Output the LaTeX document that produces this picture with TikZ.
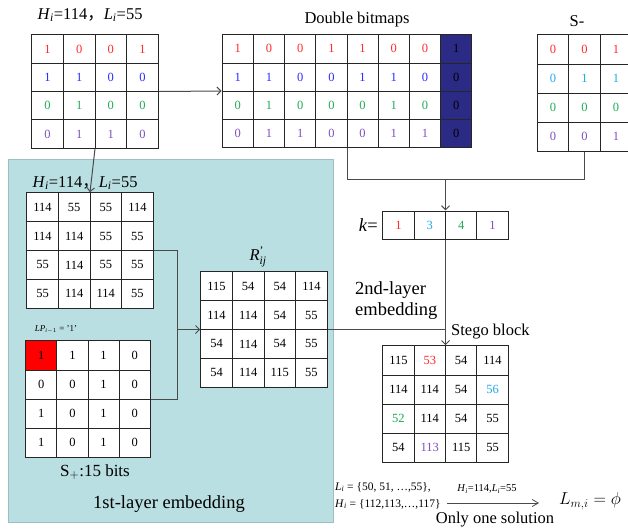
\documentclass[tikz,border=0pt]{standalone}
\usepackage{amsmath}
\usepackage{fontspec}
\setmainfont{Liberation Serif}
\newfontfamily\cjk{Noto Sans CJK SC}
\usetikzlibrary{matrix,arrows.meta}

\definecolor{cred}{HTML}{FF2A2A}
\definecolor{cblue}{HTML}{2A2AFF}
\definecolor{cgreen}{HTML}{22AA55}
\definecolor{cpurple}{HTML}{7F4FBF}
\definecolor{clblue}{HTML}{22A8E8}
\definecolor{navy}{HTML}{2B2A85}
\definecolor{panel}{HTML}{B9DFE2}
\definecolor{panelline}{HTML}{9DBFC3}
\definecolor{linkgray}{HTML}{4A4A4A}

\tikzset{
  cell/.style={draw=black!85, line width=0.8pt, fill=white, inner sep=0pt,
    font=\fontsize{12.5}{12.5}\selectfont, anchor=center},
  grid/.style={matrix of nodes, column sep=-0.8pt, row sep=-0.8pt, inner sep=0pt},
  cellsize/.style n args={2}{nodes={cell, minimum width=#1pt, minimum height=#2pt}},
  link/.style={draw=linkgray, line width=1pt},
  tip/.style={-{Straight Barb[length=4pt,width=8pt]}},
  title/.style={font=\fontsize{16.5}{16.5}\selectfont, inner sep=0pt},
  big/.style={font=\fontsize{18.5}{21}\selectfont, inner sep=0pt},
  small/.style={font=\fontsize{11.5}{11.5}\selectfont, inner sep=0pt},
  bitrows/.style={row 1/.style={nodes={text=cred}}, row 2/.style={nodes={text=#1}},
    row 3/.style={nodes={text=cgreen}}, row 4/.style={nodes={text=cpurple}}}
}

\newcommand{\HiLi}{\textit{H}$_{\textit{i}}$=114{\cjk ，}\textit{L}$_{\textit{i}}$=55}

\begin{document}
\begin{tikzpicture}[x=1pt,y=-1pt]
\clip (0,0) rectangle (628,531);
\fill[white] (0,0) rectangle (628,531);

% first-layer panel
\draw[fill=panel, draw=panelline, line width=1pt] (8,159) rectangle (333,522);

% cover block bitmap
\node[title] (t1) at (90,15) {\HiLi};
\matrix (g1) [grid, cellsize={31.6}{28.35}, bitrows=cblue] at (95,91.5) {
1 & 0 & 0 & 1 \\
1 & 1 & 0 & 0 \\
0 & 1 & 0 & 0 \\
0 & 1 & 1 & 0 \\
};

% double bitmaps
\node[title] (tdb) at (357,20) {Double bitmaps};
\matrix (db) [grid, cellsize={31.2}{28.1}, bitrows=cblue] at (347,91) {
1 & 0 & 0 & 1 & 1 & 0 & 0 & |[fill=navy,text=black]| 1 \\
1 & 1 & 0 & 0 & 1 & 1 & 0 & |[fill=navy,text=black]| 0 \\
0 & 1 & 0 & 0 & 0 & 1 & 0 & |[fill=navy,text=black]| 0 \\
0 & 1 & 1 & 0 & 0 & 1 & 1 & |[fill=navy,text=black]| 0 \\
};

% S- bits
\node[title] (tsm) at (577,21) {S-};
\matrix (sm) [grid, cellsize={31.4}{29.1}, bitrows=clblue] at (584.5,93) {
0 & 0 & 1 \\
0 & 1 & 1 \\
0 & 0 & 0 \\
0 & 0 & 1 \\
};

% first layer: H/L values
\node[title] (t2) at (85,183) {\HiLi};
\matrix (g2) [grid, cellsize={31.6}{28.85}] at (90,250.5) {
114 & 55 & 55 & 114 \\
114 & 114 & 55 & 55 \\
55 & 114 & 55 & 55 \\
55 & 114 & 114 & 55 \\
};

% first layer: location bits
\node[inner sep=0pt, font=\fontsize{9}{9}\selectfont] (tlp) at (56,329)
  {\textit{LP}$_{\textit{i}-1}$ = '1'};
\matrix (lp) [grid, cellsize={31.1}{29.1}] at (88,399) {
|[fill=red]| 1 & 1 & 1 & 0 \\
0 & 0 & 1 & 0 \\
1 & 0 & 1 & 0 \\
1 & 0 & 1 & 0 \\
};
\node[font=\fontsize{17}{17}\selectfont, inner sep=0pt] (tsp) at (95,472) {S$_{+}$:15 bits};
\node[big] (l1) at (169,504) {1st-layer embedding};

% first layer result
\node[title] (trp) at (258,257) {\textit{R}$^{\text{'}}_{\textit{ij}}$};
\matrix (rp) [grid, cellsize={31.6}{28.85}] at (264,329.5) {
115 & 54 & 54 & 114 \\
114 & 114 & 54 & 55 \\
54 & 114 & 54 & 55 \\
54 & 114 & 115 & 55 \\
};

% second layer
\node[big, anchor=east] (tk) at (378,225) {\textit{k}=};
\matrix (k) [grid, cellsize={31.35}{28}] at (445.5,225) {
|[text=cred]| 1 & |[text=clblue]| 3 & |[text=cgreen]| 4 & |[text=cpurple]| 1 \\
};
\node[big, anchor=west, align=left] (l2) at (355,301) {2nd-layer\\embedding};
\node[title, anchor=west] (tst) at (451,332) {Stego block};
\matrix (st) [grid, cellsize={31.35}{29.1}] at (445.5,404) {
115 & |[text=cred]| 53 & 54 & 114 \\
114 & 114 & 54 & |[text=clblue]| 56 \\
|[text=cgreen]| 52 & 114 & 54 & 55 \\
54 & |[text=cpurple]| 113 & 115 & 55 \\
};

% connectors
\draw[link, tip] (g1.east) -- (db.west);
\draw[link, tip] (g1.south) -- (g2.north);
\coordinate (j1) at (445.5,179);
\draw[link] (db.south) |- (j1);
\draw[link] (sm-4-2.south) |- (j1);
\draw[link, tip] (j1) -- (k.north);
\coordinate (j2) at (177,329.5);
\draw[link] (g2.east) -| (j2);
\draw[link] (lp.east) -| (j2);
\draw[link, tip] (j2) -- (rp.west);
\draw[link] (rp.east) -- (rp.east -| st.north);
\draw[link, tip] (k.south) -- (st.north);

% extraction note
\node[small, anchor=west] (ls) at (335,487) {\textit{L}$_{\textit{i}}$ = \{50, 51, …,55\},};
\node[small, anchor=west] (hs) at (335,504) {\textit{H}$_{\textit{i}}$ = \{112,113,…,117\}};
\coordinate (a0) at (447,503);
\coordinate (a1) at (539,503);
\draw[link, line width=0.8pt, -{Straight Barb[length=6pt,width=7pt]}] (a0) -- (a1);
\node[inner sep=0pt, font=\fontsize{10.5}{10.5}\selectfont] (al) at (487,489)
  {\textit{H}$_{\textit{i}}$=114,\textit{L}$_{\textit{i}}$=55};
\node[title] (ao) at (495,520) {Only one solution};
\node[inner sep=0pt, font=\fontsize{17}{17}\selectfont] (lm) at (590,501) {$L_{m,i}=\phi$};
\end{tikzpicture}
\end{document}
